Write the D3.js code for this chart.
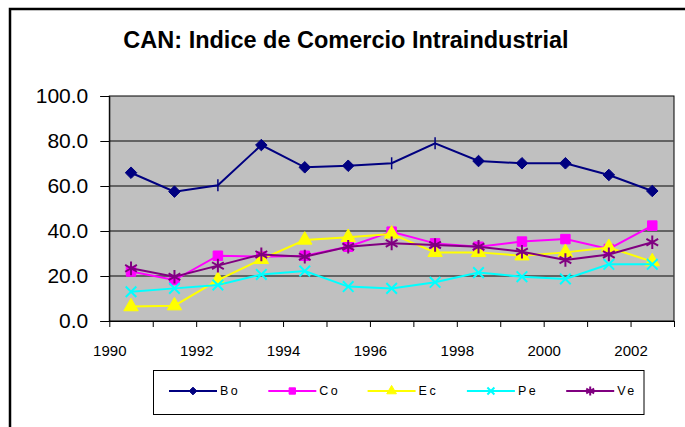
<!DOCTYPE html>
<html>
<head>
<meta charset="utf-8">
<script src="https://cdn.jsdelivr.net/npm/d3@7"></script>
<style>
body { margin: 0; background: #fff; }
text { font-family: "Liberation Sans", Arial, sans-serif; }
</style>
</head>
<body>
<svg width="685" height="427"></svg>
<script>
var years = [1990, 1991, 1992, 1993, 1994, 1995, 1996, 1997, 1998, 1999, 2000, 2001, 2002];
var yearLabels = [1990, 1992, 1994, 1996, 1998, 2000, 2002];
var yTicks = [0, 20, 40, 60, 80, 100];

var bo = [65.9, 57.5, 60.3, 78.2, 68.3, 69.0, 70.1, 79.0, 71.1, 70.1, 70.1, 64.9, 57.8];
var co = [22.0, 18.2, 29.0, 28.6, 29.0, 33.0, 39.7, 34.5, 33.0, 35.3, 36.4, 32.0, 42.4];
var ec = [6.4, 6.8, 18.2, 27.4, 36.0, 37.2, 38.7, 30.5, 30.5, 29.0, 30.5, 32.7, 26.4];
var pe = [13.0, 14.5, 16.0, 20.7, 22.2, 15.3, 14.5, 17.2, 21.5, 19.7, 18.7, 25.2, 25.2];
var ve = [23.4, 19.7, 24.6, 29.6, 28.6, 33.0, 34.5, 33.8, 33.0, 30.8, 27.1, 29.6, 35.0];

// points of Bo that show only a tick instead of the diamond
var boPlain = [2, 6, 7];

var series = [
	{name: "Bo", values: bo, color: "#000080", symbol: d3.symbolDiamond2, size: 85, fill: true},
	{name: "Co", values: co, color: "#FF00FF", symbol: d3.symbolSquare, size: 90, fill: true},
	{name: "Ec", values: ec, color: "#FFFF00", symbol: d3.symbolTriangle, size: 90, fill: true},
	{name: "Pe", values: pe, color: "#00FFFF", symbol: d3.symbolTimes, size: 75, fill: false},
	{name: "Ve", values: ve, color: "#800080", symbol: d3.symbolAsterisk, size: 130, fill: false}
];

var svg = d3.select("svg");
var pLeft = 109.3, pRight = 674, pTop = 96, pBottom = 321;

var x = d3.scaleLinear().domain([1990, 2003]).range([pLeft, pRight]);
var y = d3.scaleLinear().domain([0, 100]).range([pBottom, pTop]);

// outer frame
svg.append("rect")
	.attr("x", 10).attr("y", 9)
	.attr("width", 700).attr("height", 450)
	.attr("fill", "none")
	.attr("stroke", "#000")
	.attr("stroke-width", 2.5);

svg.append("text")
	.attr("x", 346).attr("y", 48)
	.attr("text-anchor", "middle")
	.attr("font-size", 23.5)
	.attr("font-weight", "bold")
	.text("CAN: Indice de Comercio Intraindustrial");

// plot area
svg.append("rect")
	.attr("x", pLeft).attr("y", pTop)
	.attr("width", pRight - pLeft).attr("height", pBottom - pTop)
	.attr("fill", "#C0C0C0")
	.attr("stroke", "#000")
	.attr("stroke-width", 1);

svg.append("g")
	.selectAll("line")
	.data(yTicks.filter(function(d) { return d > 0 && d < 100; }))
	.enter().append("line")
	.attr("x1", pLeft).attr("x2", pRight)
	.attr("y1", function(d) { return y(d); })
	.attr("y2", function(d) { return y(d); })
	.attr("stroke", "#444")
	.attr("stroke-width", 1.5);

var yAxis = svg.append("g")
	.attr("transform", "translate(" + pLeft + ",0)")
	.call(d3.axisLeft(y).tickValues(yTicks).tickFormat(d3.format(".1f")).tickSize(9).tickPadding(12));
yAxis.selectAll("text").attr("font-size", 21).attr("fill", "#000")
	.style("font-family", "'Liberation Sans', Arial, sans-serif");
yAxis.selectAll("line, path").attr("stroke", "#000");

var xAxis = svg.append("g")
	.attr("transform", "translate(0," + pBottom + ")")
	.call(d3.axisBottom(x).tickValues(d3.range(1990, 2004)).tickSize(6).tickPadding(18)
		.tickSizeOuter(0)
		.tickFormat(function(d) { return yearLabels.indexOf(d) >= 0 ? d : ""; }));
xAxis.selectAll("text").attr("font-size", 15).attr("fill", "#000")
	.style("font-family", "'Liberation Sans', Arial, sans-serif");
xAxis.selectAll("line, path").attr("stroke", "#000");

var line = d3.line()
	.x(function(d, i) { return x(years[i] + 0.5); })
	.y(function(d) { return y(d); });

function drawMarker(g, s, size) {
	g.append("path")
		.attr("d", d3.symbol().type(s.symbol).size(size)())
		.attr("fill", s.fill ? s.color : "none")
		.attr("stroke", s.color)
		.attr("stroke-width", s.fill ? 1 : 2);
}

series.forEach(function(s) {
	svg.append("path")
		.datum(s.values)
		.attr("d", line)
		.attr("fill", "none")
		.attr("stroke", s.color)
		.attr("stroke-width", 2);

	svg.append("g").selectAll("g")
		.data(s.values)
		.enter().append("g")
		.attr("transform", function(d, i) { return "translate(" + x(years[i] + 0.5) + "," + y(d) + ")"; })
		.each(function(d, i) {
			var g = d3.select(this);
			if (s.name == "Bo" && boPlain.indexOf(i) >= 0) {
				g.append("line").attr("y1", -6).attr("y2", 6)
					.attr("stroke", s.color).attr("stroke-width", 1.5);
			} else {
				drawMarker(g, s, s.size);
			}
		});
});

// legend
svg.append("rect")
	.attr("x", 153.5).attr("y", 370.5)
	.attr("width", 490.5).attr("height", 44)
	.attr("fill", "#fff")
	.attr("stroke", "#000")
	.attr("stroke-width", 1);

var item = svg.append("g").selectAll("g")
	.data(series)
	.enter().append("g")
	.attr("transform", function(d, i) { return "translate(" + (169 + i * 99.3) + ",391)"; });

item.append("line")
	.attr("x1", 0).attr("x2", 48)
	.attr("stroke", function(d) { return d.color; })
	.attr("stroke-width", 2);

item.append("g")
	.attr("transform", "translate(24,0)")
	.each(function(s) { drawMarker(d3.select(this), s, s.size * 0.45); });

item.append("text")
	.attr("x", 51)
	.attr("dy", "0.35em")
	.attr("font-size", 12.5)
	.attr("letter-spacing", 2.5)
	.text(function(d) { return d.name; });
</script>
</body>
</html>
